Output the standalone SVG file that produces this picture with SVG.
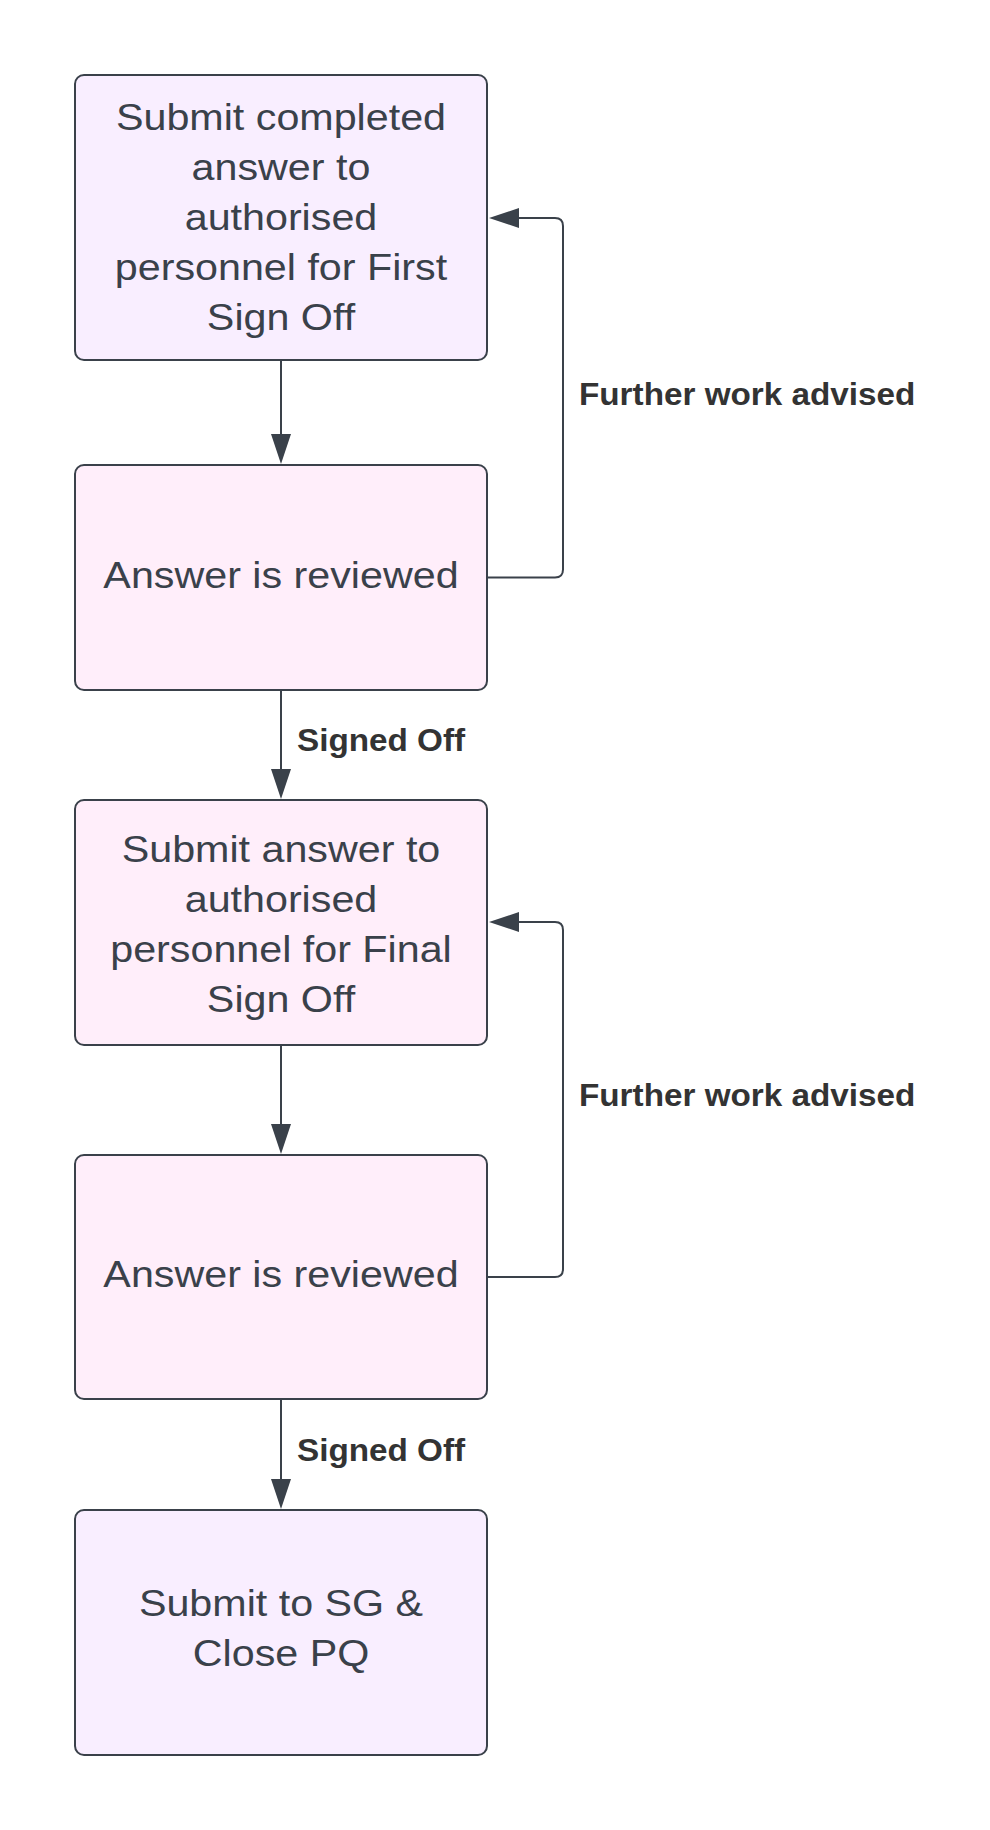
<svg xmlns="http://www.w3.org/2000/svg" width="990" height="1830" viewBox="0 0 990 1830">
<style>
.box{stroke:#3a414a;stroke-width:2}
.lav{fill:#f9eeff}
.pink{fill:#ffeefa}
.nt{font-family:"Liberation Sans",Arial,sans-serif;font-size:37.5px;fill:#3a414a;text-anchor:middle}
.lb{font-family:"Liberation Sans",Arial,sans-serif;font-size:32px;font-weight:bold;fill:#333333}
.cn{fill:none;stroke:#3a414a;stroke-width:2}
</style>
<defs>
<marker id="ah" viewBox="0 0 30 20" refX="0" refY="10" markerWidth="30" markerHeight="20" markerUnits="userSpaceOnUse" orient="auto">
<path d="M0,0 L30,10 L0,20 Z" fill="#3a414a"/>
</marker>
</defs>
<rect width="990" height="1830" fill="#ffffff"/>
<g id="connectors">
<path class="cn" d="M281,360 V434" marker-end="url(#ah)"/>
<path class="cn" d="M487,577.5 H555 Q563,577.5 563,569.5 V226 Q563,218 555,218 H519" marker-end="url(#ah)"/>
<path class="cn" d="M281,690 V769" marker-end="url(#ah)"/>
<path class="cn" d="M281,1045 V1124" marker-end="url(#ah)"/>
<path class="cn" d="M487,1277 H555 Q563,1277 563,1269 V930 Q563,922 555,922 H519" marker-end="url(#ah)"/>
<path class="cn" d="M281,1399 V1479" marker-end="url(#ah)"/>
<text class="lb" x="579" y="405" transform="matrix(1.04 0 0 1 -23.16 0)">Further work advised</text>
<text class="lb" x="297" y="751" transform="matrix(1.04 0 0 1 -11.88 0)">Signed Off</text>
<text class="lb" x="579" y="1106" transform="matrix(1.04 0 0 1 -23.16 0)">Further work advised</text>
<text class="lb" x="297" y="1461" transform="matrix(1.04 0 0 1 -11.88 0)">Signed Off</text>
</g>
<g id="node1">
<rect class="box lav" x="75" y="75" width="412" height="285" rx="9"/>
<text class="nt" transform="matrix(1.1 0 0 1 -28.1 0)"><tspan x="281" y="130">Submit completed</tspan><tspan x="281" y="180">answer to</tspan><tspan x="281" y="230">authorised</tspan><tspan x="281" y="280">personnel for First</tspan><tspan x="281" y="330">Sign Off</tspan></text>
</g>
<g id="node2">
<rect class="box pink" x="75" y="465" width="412" height="225" rx="9"/>
<text class="nt" transform="matrix(1.1 0 0 1 -28.1 0)" x="281" y="588">Answer is reviewed</text>
</g>
<g id="node3">
<rect class="box pink" x="75" y="800" width="412" height="245" rx="9"/>
<text class="nt" transform="matrix(1.1 0 0 1 -28.1 0)"><tspan x="281" y="862">Submit answer to</tspan><tspan x="281" y="912">authorised</tspan><tspan x="281" y="962">personnel for Final</tspan><tspan x="281" y="1012">Sign Off</tspan></text>
</g>
<g id="node4">
<rect class="box pink" x="75" y="1155" width="412" height="244" rx="9"/>
<text class="nt" transform="matrix(1.1 0 0 1 -28.1 0)" x="281" y="1287">Answer is reviewed</text>
</g>
<g id="node5">
<rect class="box lav" x="75" y="1510" width="412" height="245" rx="9"/>
<text class="nt" transform="matrix(1.1 0 0 1 -28.1 0)"><tspan x="281" y="1616">Submit to SG &amp;</tspan><tspan x="281" y="1666">Close PQ</tspan></text>
</g>
</svg>
